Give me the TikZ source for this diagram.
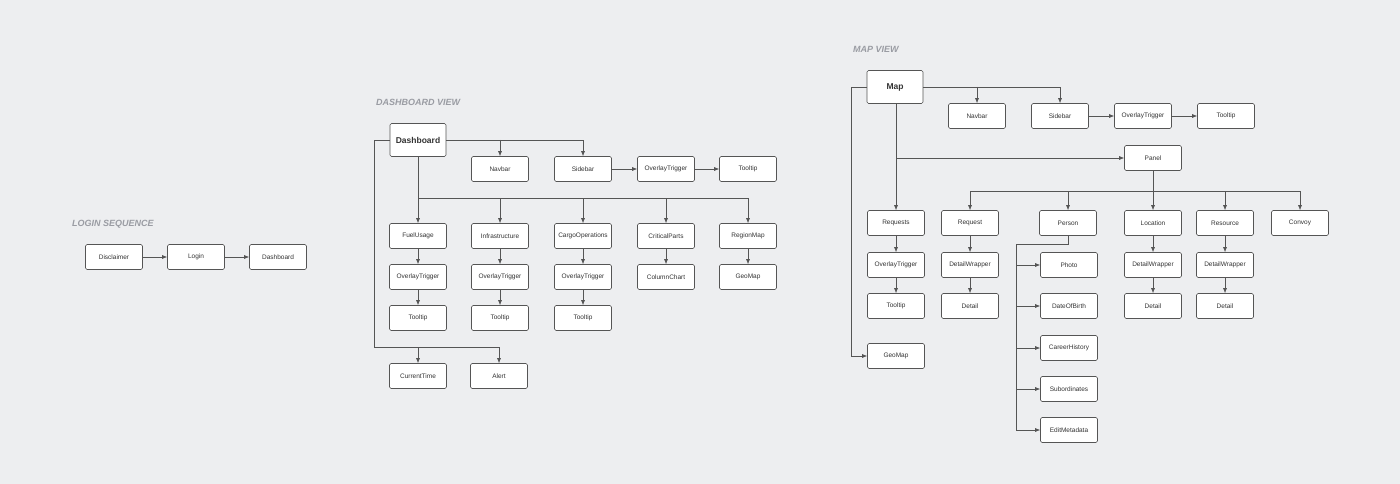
\documentclass[tikz,border=0pt]{standalone}
\usepackage{fontspec}
\setmainfont{Liberation Sans}
\usetikzlibrary{arrows.meta}
\definecolor{bgcol}{HTML}{EDEEF0}
\definecolor{edgecol}{HTML}{555555}
\definecolor{titlecol}{HTML}{9A9CA3}
\tikzset{
    box/.style={draw=edgecol, fill=white, rounded corners=1.5pt, line width=0.6pt,
        minimum width=57pt, minimum height=25pt, inner sep=0pt, font=\fontsize{6.5}{7}\selectfont, text=black!80},
    bigbox/.style={box, minimum width=56pt, minimum height=33pt, font=\fontsize{8.5}{9}\selectfont\bfseries},
    title/.style={anchor=west, inner sep=0pt, text=titlecol, font=\fontsize{9}{10}\selectfont\bfseries\itshape},
    link/.style={draw=edgecol, line width=0.6pt, -{Latex[length=5pt,width=4pt]}},
    wire/.style={draw=edgecol, line width=0.6pt}
}
\begin{document}
\begin{tikzpicture}[x=1pt,y=-1pt]

    \fill[bgcol] (0,0) rectangle (1400,484);
    \useasboundingbox (0,0) rectangle (1400,484);

    % login sequence
    \node[title] at (72,224) (tLogin) {LOGIN SEQUENCE};
    \node[box] at (114,257) (L1) {Disclaimer};
    \node[box] at (196,257) (L2) {Login};
    \node[box] at (278,257) (L3) {Dashboard};
    \draw[link] (L1) -- (L2);
    \draw[link] (L2) -- (L3);

    % dashboard view
    \node[title] at (376,102) (tDash) {DASHBOARD VIEW};
    \node[bigbox] at (418,140) (D) {Dashboard};
    \node[box] at (500,169) (Dnav) {Navbar};
    \node[box] at (583,169) (Dside) {Sidebar};
    \node[box] at (666,169) (Dot) {OverlayTrigger};
    \node[box] at (748,169) (Dtt) {Tooltip};
    \draw[link] (Dside) -- (Dot);
    \draw[link] (Dot) -- (Dtt);
    \draw[link] (D.east) -| (Dside.north);
    \draw[link] (Dnav.north |- D.east) -- (Dnav.north);

    \coordinate (Dbus) at (418,198);
    \draw[wire] (D.south) -- (Dbus) -- (748,198);
    \foreach \x/\n/\a/\b in {418/1/FuelUsage/OverlayTrigger, 500/2/Infrastructure/OverlayTrigger,
        583/3/CargoOperations/OverlayTrigger, 666/4/CriticalParts/ColumnChart, 748/5/RegionMap/GeoMap}
    {
        \node[box] at (\x,236) (DA\n) {\a};
        \node[box] at (\x,277) (DB\n) {\b};
        \draw[link] (DA\n.north |- Dbus) -- (DA\n.north);
        \draw[link] (DA\n) -- (DB\n);
    }
    \foreach \n in {1,2,3}
    {
        \node[box] at (DB\n.center |- 0,318) (DC\n) {Tooltip};
        \draw[link] (DB\n) -- (DC\n);
    }

    \node[box] at (418,376) (Dtime) {CurrentTime};
    \node[box] at (499,376) (Dalert) {Alert};
    \coordinate (Dleft) at (374,347);
    \draw[wire] (D.west) -| (Dleft) -- (Dalert.north |- Dleft);
    \draw[link] (Dtime.north |- Dleft) -- (Dtime.north);
    \draw[link] (Dalert.north |- Dleft) -- (Dalert.north);

    % map view
    \node[title] at (853,49) (tMap) {MAP VIEW};
    \node[bigbox] at (895,87) (M) {Map};
    \node[box] at (977,116) (Mnav) {Navbar};
    \node[box] at (1060,116) (Mside) {Sidebar};
    \node[box] at (1143,116) (Mot) {OverlayTrigger};
    \node[box] at (1226,116) (Mtt) {Tooltip};
    \draw[link] (Mside) -- (Mot);
    \draw[link] (Mot) -- (Mtt);
    \draw[link] (M.east) -| (Mside.north);
    \draw[link] (Mnav.north |- M.east) -- (Mnav.north);

    \node[box] at (1153,158) (Mpanel) {Panel};
    \node[box] at (896,223) (Mreq) {Requests};
    \node[box] at (896,265) (Mrot) {OverlayTrigger};
    \node[box] at (896,306) (Mrtt) {Tooltip};
    \draw[link] (M.south -| Mreq) -- (Mreq.north);
    \draw[link] (Mreq.south |- Mpanel.west) -- (Mpanel.west);
    \draw[link] (Mreq) -- (Mrot);
    \draw[link] (Mrot) -- (Mrtt);

    \node[box] at (896,356) (Mgeo) {GeoMap};
    \draw[link] (M.west) -| (851,356) -- (Mgeo.west);

    \coordinate (Mbus) at (1153,191);
    \draw[wire] (Mpanel.south) -- (Mbus);
    \draw[wire] (970,191) -- (1300,191);
    \foreach \x/\n/\a in {970/1/Request, 1068/2/Person, 1153/3/Location, 1225/4/Resource, 1300/5/Convoy}
    {
        \node[box] at (\x,223) (MA\n) {\a};
        \draw[link] (MA\n.north |- Mbus) -- (MA\n.north);
    }
    \foreach \n in {1,3,4}
    {
        \node[box] at (MA\n.center |- 0,265) (MB\n) {DetailWrapper};
        \node[box] at (MA\n.center |- 0,306) (MC\n) {Detail};
        \draw[link] (MA\n) -- (MB\n);
        \draw[link] (MB\n) -- (MC\n);
    }

    \coordinate (Mperson) at (1016,244);
    \draw[wire] (MA2.south) |- (Mperson) -- (1016,430);
    \foreach \y/\n/\a in {265/1/Photo, 306/2/DateOfBirth, 348/3/CareerHistory, 389/4/Subordinates, 430/5/EditMetadata}
    {
        \node[box] at (1069,\y) (MP\n) {\a};
        \draw[link] (Mperson |- MP\n.west) -- (MP\n.west);
    }

\end{tikzpicture}
\end{document}
